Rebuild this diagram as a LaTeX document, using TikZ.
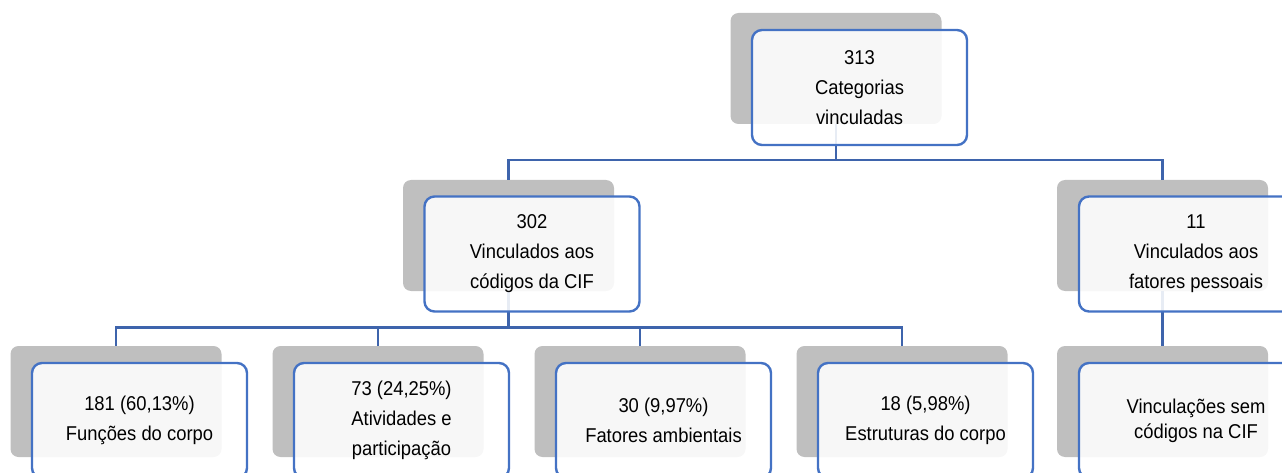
\documentclass[tikz,border=0pt]{standalone}
\usepackage{fontspec}
\setmainfont{Liberation Sans}[FakeStretch=0.92]
\definecolor{lineblue}{HTML}{4472C4}
\definecolor{linkblue}{HTML}{3E64AC}
\definecolor{shade}{HTML}{BFBFBF}
\begin{document}
\begin{tikzpicture}[x=1pt,y=-1pt,
  shadowbox/.style={fill=shade, rounded corners=8pt, minimum width=211pt, minimum height=111pt, inner sep=0pt},
  frontbox/.style={draw=lineblue, line width=2.4pt, fill=white, fill opacity=0.88, text opacity=1, draw opacity=1, rounded corners=10pt, minimum width=215pt, minimum height=115pt, inner sep=0pt, align=center, font=\fontsize{20}{30}\selectfont},
  widebox/.style={frontbox, minimum width=234pt},
  link/.style={draw=linkblue, line width=2.6pt}]
\useasboundingbox (0,0) rectangle (1282,473);
% shadow boxes
\node[shadowbox] (g0) at (836,68.5) {};
\node[shadowbox] (g1) at (508.5,235.5) {};
\node[shadowbox] (g2) at (1162.5,235.5) {};
\node[shadowbox] (g3) at (116,401.5) {};
\node[shadowbox] (g4) at (378,401.5) {};
\node[shadowbox] (g5) at (640,401.5) {};
\node[shadowbox] (g6) at (902,401.5) {};
\node[shadowbox] (g7) at (1162.5,401.5) {};
% connectors
\draw[link] (g0.south) -- ++(0,36) -| (g1.north);
\draw[link] (g0.south) -- ++(0,36) -| (g2.north);
\draw[link] (g1.south) -- ++(0,36) -| (g3.north);
\draw[link] (g1.south) -- ++(0,36) -| (g4.north);
\draw[link] (g1.south) -- ++(0,36) -| (g5.north);
\draw[link] (g1.south) -- ++(0,36) -| (g6.north);
\draw[link] (g2.south) -- (g7.north);
% front boxes
\node[frontbox] (f0) at (859.5,87.5) {313\\Categorias\\vinculadas};
\node[frontbox] (f1) at (532,254) {302\\Vinculados aos\\códigos da CIF};
\node[widebox] (f2) at (1196,254) {11\\Vinculados aos\\fatores pessoais};
\node[frontbox] (f3) at (139.5,420.5) {181 (60,13\%)\\Funções do corpo};
\node[frontbox] (f4) at (401.5,420.5) {73 (24,25\%)\\Atividades e\\participação};
\node[frontbox] (f5) at (663.5,420.5) {30 (9,97\%)\\Fatores ambientais};
\node[frontbox] (f6) at (925.5,420.5) {18 (5,98\%)\\Estruturas do corpo};
\node[widebox, font=\fontsize{20}{25}\selectfont] (f7) at (1196,420.5) {Vinculações sem\\códigos na CIF};
\end{tikzpicture}
\end{document}
